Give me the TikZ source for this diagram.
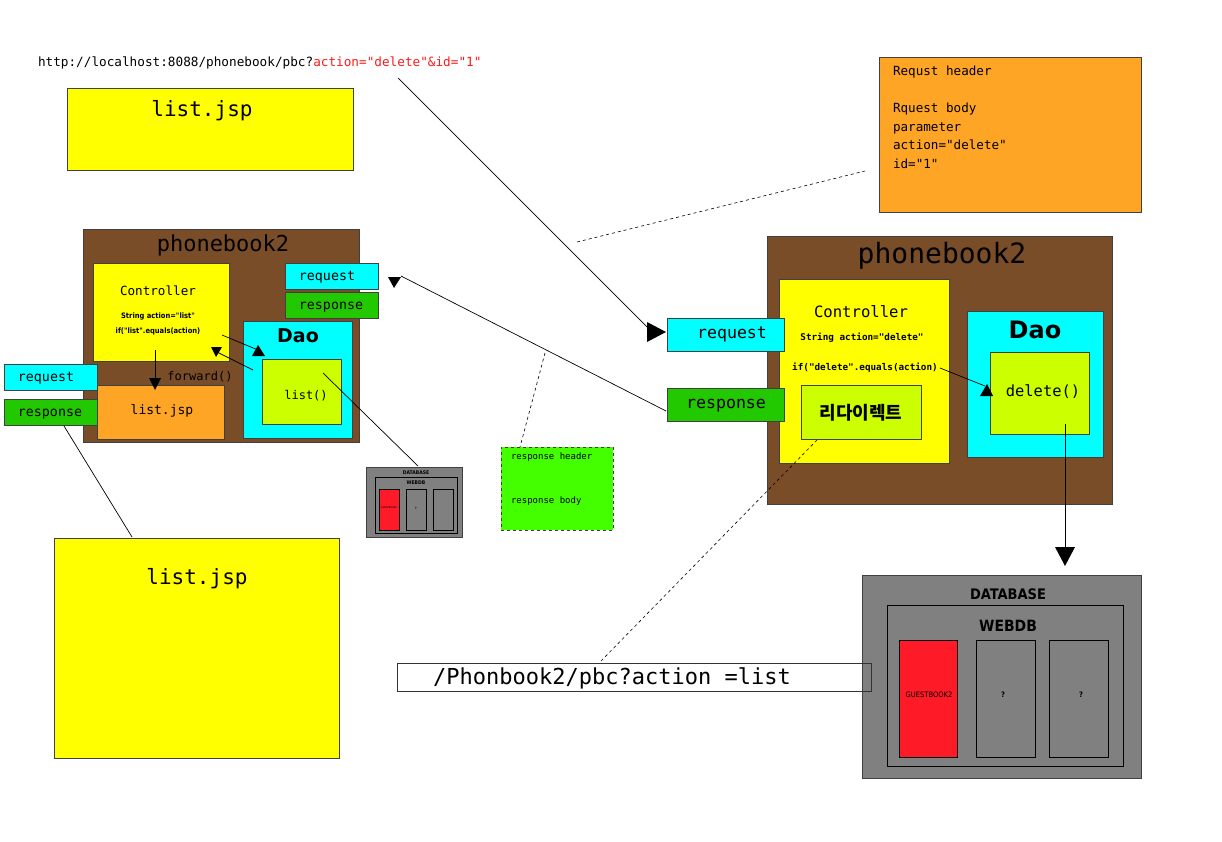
\documentclass[tikz,border=0pt]{standalone}
\usepackage{fontspec}
\setmainfont{DejaVu Sans}
\setmonofont{DejaVu Sans Mono}
\newfontfamily\kr{Noto Sans CJK KR}
\newfontfamily\cond{DejaVu Sans Condensed}
\usetikzlibrary{arrows.meta}
\definecolor{brownbg}{HTML}{7A4D29}
\definecolor{yel}{HTML}{FFFF00}
\definecolor{lime}{HTML}{CCFF00}
\definecolor{cyanbx}{HTML}{00FFFF}
\definecolor{greenbx}{HTML}{22C800}
\definecolor{orangebx}{HTML}{FFA526}
\definecolor{rhgreen}{HTML}{44FF00}
\definecolor{dbgray}{HTML}{808080}
\definecolor{redbx}{HTML}{FF1A28}
\definecolor{urlred}{HTML}{FF1A1A}
\tikzset{
  box/.style={draw=black!75, line width=0.8pt, inner sep=0pt, outer sep=0pt},
  txt/.style={inner sep=0pt, outer sep=0pt, text=black},
  mono/.style={txt, font=\ttfamily\fontsize{#1}{#1}\selectfont},
  conn/.style={draw=black, line width=0.7pt},
  tip/.style={fill=black},
}
\begin{document}
\begin{tikzpicture}[x=1pt,y=-1pt]
\useasboundingbox (0,0) rectangle (1222,842);
\fill[white] (0,0) rectangle (1222,842);

% URL text
\node[mono=12.7, anchor=west] (url) at (38,62.5) {http://localhost:8088/phonebook/pbc?\textcolor{urlred}{action="delete"\&id="1"}};

% top list.jsp
\node[box, fill=yel, minimum width=286, minimum height=82] (lj1) at (210,129) {};
\node[mono=21] (lj1t) at (202,111) {list.jsp};

% left phonebook2
\node[box, fill=brownbg, minimum width=276, minimum height=213] (pb1) at (221,335.5) {};
\node[mono=22] (pb1t) at (223,245) {phonebook2};
\node[box, fill=yel, minimum width=136, minimum height=98] (ctl1) at (161,312) {};
\node[mono=12.6] (ctl1t) at (158,291) {Controller};
\node[txt, font=\cond\bfseries\fontsize{7.5}{7.5}\selectfont] (ctl1a) at (158,316) {String action="list"};
\node[txt, font=\cond\bfseries\fontsize{7.5}{7.5}\selectfont] (ctl1b) at (158,331) {if("list".equals(action)};
\node[box, fill=cyanbx, minimum width=93, minimum height=26] (req1) at (331.5,276) {};
\node[mono=13.3] (req1t) at (327,277) {request};
\node[box, fill=greenbx, minimum width=93, minimum height=26] (res1) at (331.5,305) {};
\node[mono=13.3] (res1t) at (331,307) {response};
\node[box, fill=cyanbx, minimum width=109, minimum height=117] (dao1) at (297.5,379.5) {};
\node[txt, font=\bfseries\fontsize{19}{19}\selectfont] (dao1t) at (298,336) {Dao};
\node[box, fill=lime, minimum width=79, minimum height=65] (lst) at (301.5,391.5) {};
\node[mono=12] (lstt) at (306,396) {list()};
\node[box, fill=cyanbx, minimum width=93, minimum height=26] (req2) at (50.5,377) {};
\node[mono=13.3] (req2t) at (46,378) {request};
\node[box, fill=greenbx, minimum width=93, minimum height=26] (res2) at (50.5,412) {};
\node[mono=13.3] (res2t) at (50,414) {response};
\node[box, fill=orangebx, minimum width=127, minimum height=54] (ljo) at (160.5,412) {};
\node[mono=13] (ljot) at (162,411) {list.jsp};
\node[mono=12] (fwd) at (200,377) {forward()};

% small database
\node[box, fill=dbgray, minimum width=96, minimum height=70] (sdb) at (414,502) {};
\node[txt, font=\cond\bfseries\fontsize{5}{5}\selectfont] (sdbt) at (416,473) {DATABASE};
\node[box, draw=black, fill=dbgray, minimum width=82, minimum height=56] (swb) at (416,505) {};
\node[txt, font=\cond\bfseries\fontsize{5}{5}\selectfont] (swbt) at (416,483) {WEBDB};
\node[box, draw=black, fill=redbx, minimum width=20, minimum height=41] (sg) at (389,509.5) {};
\node[txt, font=\cond\fontsize{2.5}{2.5}\selectfont] (sgt) at (389,508) {GUESTBOOK2};
\node[box, draw=black, fill=dbgray, minimum width=20, minimum height=41] (sq1) at (416,509.5) {};
\node[txt, font=\cond\bfseries\fontsize{3}{3}\selectfont] (sq1t) at (416,508) {?};
\node[box, draw=black, fill=dbgray, minimum width=20, minimum height=41] (sq2) at (443,509.5) {};

% big list.jsp
\node[box, fill=yel, minimum width=285, minimum height=220] (lj2) at (196.5,648) {};
\node[mono=21] (lj2t) at (197,579) {list.jsp};

% response header box
\node[box, fill=rhgreen, dashed, minimum width=112, minimum height=83] (rh) at (557,488.5) {};
\node[mono=9, anchor=west] (rht1) at (511,457) {response header};
\node[mono=9, anchor=west] (rht2) at (511,501) {response body};

% orange request box
\node[box, fill=orangebx, minimum width=262, minimum height=155] (rq) at (1010,134.5) {};
\node[txt, anchor=north west, align=left, font=\ttfamily\fontsize{12.6}{18.5}\selectfont] (rqt) at (893,66) {Requst header\\[0pt]\mbox{}\\Rquest body\\parameter\\action="delete"\\id="1"};

% right phonebook2
\node[box, fill=brownbg, minimum width=345, minimum height=268] (pb2) at (939.5,370) {};
\node[mono=28] (pb2t) at (942,256) {phonebook2};
\node[box, fill=yel, minimum width=170, minimum height=184] (ctl2) at (864,371) {};
\node[mono=15.6] (ctl2t) at (861,312) {Controller};
\node[txt, font=\ttfamily\bfseries\fontsize{9.3}{9.3}\selectfont] (ctl2a) at (862,338) {String action="delete"};
\node[txt, font=\ttfamily\bfseries\fontsize{9.3}{9.3}\selectfont] (ctl2b) at (865,368) {if("delete".equals(action)};
\node[box, fill=lime, minimum width=120, minimum height=54] (redir) at (861,412) {};
\node[txt, font=\kr\bfseries\fontsize{18}{18}\selectfont] (redirt) at (861,413) {리다이렉트};
\node[box, fill=cyanbx, minimum width=117, minimum height=33] (req3) at (725.5,334.5) {};
\node[mono=16.6] (req3t) at (732,334) {request};
\node[box, fill=greenbx, minimum width=117, minimum height=33] (res3) at (725.5,404.5) {};
\node[mono=16.6] (res3t) at (726,406) {response};
\node[box, fill=cyanbx, minimum width=136, minimum height=146] (dao2) at (1035,384) {};
\node[txt, font=\bfseries\fontsize{24}{24}\selectfont] (dao2t) at (1035,330) {Dao};
\node[box, fill=lime, minimum width=99, minimum height=82] (del) at (1039.5,393) {};
\node[mono=15.4] (delt) at (1043,392) {delete()};

% right database
\node[box, fill=dbgray, minimum width=279, minimum height=203] (db) at (1001.5,676.5) {};
\node[txt, font=\cond\bfseries\fontsize{14.5}{14.5}\selectfont] (dbt) at (1008,594) {DATABASE};
\node[box, draw=black, fill=dbgray, minimum width=236, minimum height=161] (wb) at (1005,685.5) {};
\node[txt, font=\cond\bfseries\fontsize{15.5}{15.5}\selectfont] (wbt) at (1008,626) {WEBDB};
\node[box, draw=black, fill=redbx, minimum width=58, minimum height=117] (gb) at (928,698.5) {};
\node[txt, font=\cond\fontsize{7.5}{7.5}\selectfont] (gbt) at (929,695) {GUESTBOOK2};
\node[box, draw=black, fill=dbgray, minimum width=59, minimum height=117] (q1) at (1005.5,698.5) {};
\node[txt, font=\cond\bfseries\fontsize{7.5}{7.5}\selectfont] (q1t) at (1003,695) {?};
\node[box, draw=black, fill=dbgray, minimum width=59, minimum height=117] (q2) at (1078.5,698.5) {};
\node[txt, font=\cond\bfseries\fontsize{7.5}{7.5}\selectfont] (q2t) at (1081,695) {?};

% url box
\node[box, draw=black!80, minimum width=474, minimum height=28] (ub) at (634,677) {};
\node[mono=22] (ubt) at (612,678) {/Phonbook2/pbc?action =list};

% connectors
\coordinate (c1) at (398,78);
\coordinate (c1e) at (648,328);
\draw[conn] (c1) -- (c1e);
\fill[tip] (647,322) -- (666,332) -- (647,342) -- cycle;

\coordinate (d1a) at (577,242);
\coordinate (d1b) at (865,171);
\draw[conn, dashed, line width=0.6pt] (d1a) -- (d1b);

\coordinate (r3a) at (666,411);
\coordinate (r3b) at (401,276);
\draw[conn] (r3a) -- (r3b);
\fill[tip] (388,277) -- (401,277) -- (394,288) -- cycle;

\coordinate (d2a) at (545,353);
\coordinate (d2b) at (520,447);
\draw[conn, dashed, line width=0.6pt] (d2a) -- (d2b);

\coordinate (l1) at (323,373);
\coordinate (l1e) at (418,466);
\draw[conn] (l1) -- (l1e);

\coordinate (r2a) at (64,426);
\coordinate (r2b) at (132,537);
\draw[conn] (r2a) -- (r2b);

\coordinate (f1) at (155,350);
\coordinate (f1e) at (155,378);
\draw[conn] (f1) -- (f1e);
\fill[tip] (149,378) -- (161,378) -- (155,390) -- cycle;

\coordinate (a1) at (222,335);
\coordinate (a1e) at (258,350);
\draw[conn] (a1) -- (a1e);
\fill[tip] (252,356) -- (265,356) -- (258,345) -- cycle;

\coordinate (a2) at (253,370);
\coordinate (a2e) at (217,352);
\draw[conn] (a2) -- (a2e);
\fill[tip] (211,347) -- (222,347) -- (216,357) -- cycle;

\coordinate (a3) at (940,368);
\coordinate (a3e) at (985,386);
\draw[conn] (a3) -- (a3e);
\fill[tip] (980,396) -- (993,396) -- (987,384) -- cycle;

\coordinate (a4) at (1065,424);
\coordinate (a4e) at (1065,548);
\draw[conn] (a4) -- (a4e);
\fill[tip] (1055,547) -- (1075,547) -- (1065,566) -- cycle;

\coordinate (d3a) at (817,440);
\coordinate (d3b) at (600,662);
\draw[conn, dashed, line width=0.6pt] (d3a) -- (d3b);
\end{tikzpicture}
\end{document}
